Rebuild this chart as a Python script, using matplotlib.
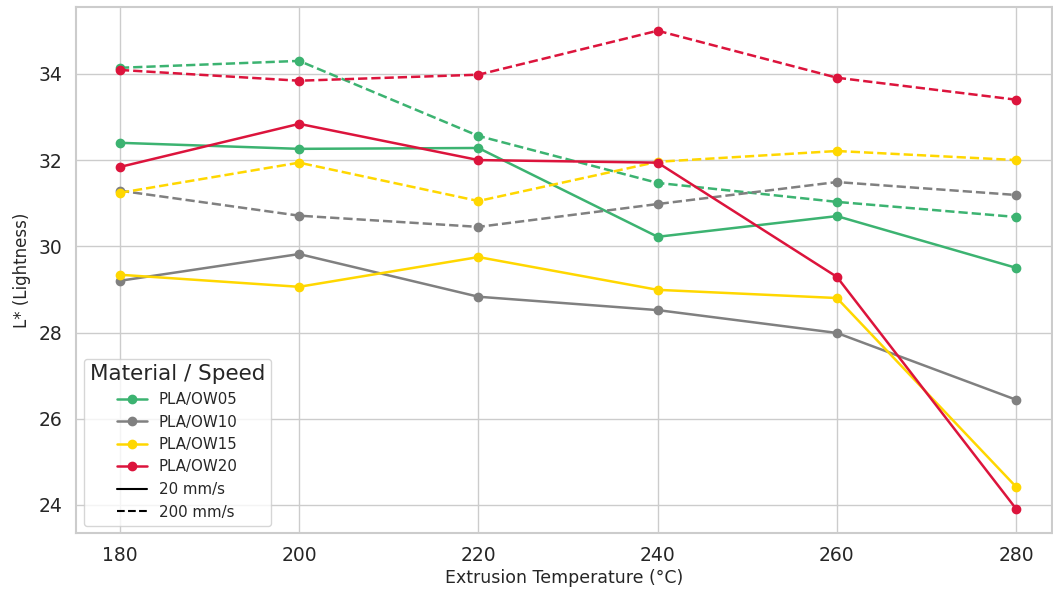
import matplotlib
matplotlib.use("Agg")
import matplotlib.pyplot as plt
import seaborn as sns
from matplotlib.lines import Line2D

sns.set_theme(style="whitegrid")
plt.rcParams['font.family'] = ['DejaVu Sans']

temps = [180, 200, 220, 240, 260, 280]
materials = ["PLA/OW05", "PLA/OW10", "PLA/OW15", "PLA/OW20"]
colors = ["#3cb371", "#808080", "#ffd700", "#dc143c"]

solid_20 = {
    "PLA/OW05": [32.40, 32.26, 32.28, 30.22, 30.70, 29.50],
    "PLA/OW10": [29.20, 29.82, 28.83, 28.52, 27.99, 26.44],
    "PLA/OW15": [29.34, 29.06, 29.75, 28.99, 28.80, 24.42],
    "PLA/OW20": [31.84, 32.84, 32.00, 31.94, 29.29, 23.91],
}
dashed_200 = {
    "PLA/OW05": [34.14, 34.30, 32.56, 31.47, 31.03, 30.68],
    "PLA/OW10": [31.29, 30.71, 30.45, 30.98, 31.49, 31.19],
    "PLA/OW15": [31.24, 31.94, 31.05, 31.96, 32.21, 32.00],
    "PLA/OW20": [34.09, 33.84, 33.98, 35.00, 33.91, 33.40],
}

fig = plt.figure(figsize=(10.53, 5.94), dpi=100)
ax = fig.add_axes([76/1053, (594-533)/594, (1052-76)/1053, (533-7)/594])

for m, c in zip(materials, colors):
    ax.plot(temps, solid_20[m], color=c, lw=1.8, marker="o", ms=6, ls="-")
    ax.plot(temps, dashed_200[m], color=c, lw=1.8, marker="o", ms=6, ls="--")

ax.set_xlim(175.1, 284.0)
ax.set_ylim(23.35, 35.55)
ax.set_xticks(temps)
ax.set_yticks([24, 26, 28, 30, 32, 34])
ax.tick_params(labelsize=13.5, colors="#262626")
ax.set_xlabel("Extrusion Temperature (°C)", fontsize=12.5, labelpad=3)
ax.set_ylabel("L* (Lightness)", fontsize=12, labelpad=6)
for s in ax.spines.values():
    s.set_color("#cccccc")
    s.set_linewidth(1.5)

handles = [Line2D([0], [0], color=c, marker="o", ms=6, lw=1.8) for c in colors]
handles += [Line2D([0], [0], color="black", lw=1.5, ls="-"),
            Line2D([0], [0], color="black", lw=1.5, ls="--")]
labels = materials + ["20 mm/s", "200 mm/s"]
leg = ax.legend(handles, labels, title="Material / Speed", loc="lower left",
                fontsize=10.8, title_fontsize=15.5, frameon=True)

fig.savefig("out.png", dpi=100)
